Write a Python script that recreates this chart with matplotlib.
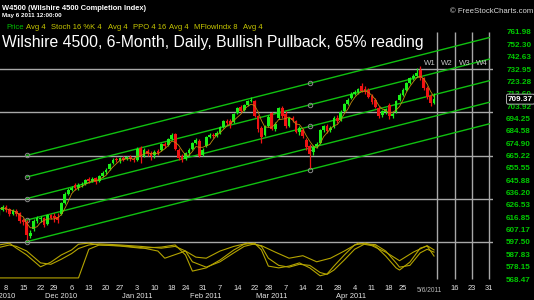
import numpy as np
import pandas as pd
import matplotlib
matplotlib.use("Agg")
import matplotlib.pyplot as plt
from matplotlib.transforms import blended_transform_factory

plt.rcParams["font.family"] = ["Liberation Sans", "DejaVu Sans"]

# ── Config ────────────────────────────────────────────────────────────────
W_PX, H_PX = 534, 300
HOLIDAYS = ["2010-11-25", "2010-12-24", "2011-01-17", "2011-02-21",
            "2011-04-22", "2011-05-30"]
days = pd.bdate_range("2010-11-04", "2011-05-31", freq="C", holidays=HOLIDAYS)


def pos(d):
    return days.get_loc(pd.Timestamp(d))


# ── Daily OHLC, 2010-11-04 .. 2011-05-06 ──────────────────────────────────
opens = [619.4, 622.5, 624.9, 623.3, 619.4, 621.7, 620.2, 614.7, 613.1, 602.2,
         607.6, 613.9, 615.5, 616.3, 611.6, 618.6, 617.8, 617.0, 619.4, 628.0,
         635.0, 638.2, 642.1, 639.7, 642.1, 642.9, 646.8, 645.2, 647.6, 645.2,
         649.1, 652.3, 654.6, 659.3, 662.4, 660.9, 663.2, 662.4, 664.0, 662.4,
         661.7, 671.1, 664.8, 668.7, 667.2, 665.6, 668.7, 669.5, 674.2, 673.4,
         678.1, 682.0, 669.5, 664.8, 662.4, 667.2, 670.3, 675.0, 676.6, 665.6,
         672.6, 679.7, 681.3, 680.5, 682.8, 687.5, 692.2, 692.2, 691.5, 698.5,
         703.2, 700.9, 704.8, 707.9, 707.9, 696.2, 686.8, 681.3, 688.3, 698.5,
         686.0, 694.6, 702.4, 697.7, 688.3, 694.6, 692.2, 683.6, 685.2, 677.3,
         672.6, 667.9, 672.6, 675.0, 685.2, 688.3, 685.2, 687.5, 694.6, 693.0,
         700.1, 705.6, 710.3, 713.4, 715.0, 719.7, 717.3, 716.5, 711.8, 708.7,
         702.4, 696.9, 699.3, 704.8, 696.2, 699.3, 708.7, 712.6, 716.5, 722.0,
         726.0, 727.5, 732.2, 726.0, 718.1, 711.8, 706.4]
highs = [624.9, 626.4, 626.4, 624.1, 623.3, 623.3, 620.9, 616.3, 614.7, 606.9,
         615.5, 617.8, 617.8, 617.0, 619.4, 619.4, 620.2, 620.2, 628.8, 636.6,
         639.7, 641.3, 643.6, 643.6, 644.4, 646.8, 648.3, 648.3, 648.3, 649.9,
         653.0, 655.4, 659.3, 663.2, 664.0, 664.0, 664.8, 664.8, 665.6, 664.0,
         671.9, 672.6, 671.1, 670.3, 668.7, 669.5, 670.3, 675.0, 675.8, 678.9,
         682.8, 682.8, 671.1, 666.4, 667.9, 671.1, 675.8, 678.9, 678.1, 671.1,
         680.5, 682.8, 682.8, 684.4, 688.3, 693.0, 693.8, 693.8, 698.5, 703.2,
         704.8, 705.6, 708.7, 711.1, 708.7, 696.9, 688.3, 689.1, 696.9, 699.3,
         691.5, 703.2, 704.0, 700.1, 695.4, 696.2, 693.0, 688.3, 686.8, 678.9,
         674.2, 673.4, 675.8, 686.0, 689.1, 689.9, 688.3, 696.2, 696.9, 700.9,
         706.4, 710.3, 715.0, 716.5, 718.1, 722.0, 719.7, 718.1, 713.4, 710.3,
         704.0, 700.9, 702.4, 706.4, 699.3, 708.7, 714.2, 718.1, 722.8, 726.7,
         729.1, 733.8, 735.3, 726.7, 719.7, 713.4, 714.2]
lows = [618.6, 621.7, 620.9, 617.8, 618.6, 617.8, 612.3, 610.8, 599.0, 600.6,
        606.1, 612.3, 613.1, 609.2, 610.8, 615.5, 613.1, 612.3, 618.6, 627.2,
        634.3, 637.4, 638.2, 638.2, 640.5, 642.1, 643.6, 644.4, 642.9, 644.4,
        648.3, 650.7, 653.8, 658.5, 660.1, 659.3, 660.9, 661.7, 660.9, 660.1,
        660.9, 659.3, 664.0, 664.8, 661.7, 663.2, 665.6, 668.7, 671.1, 672.6,
        677.3, 669.5, 661.7, 660.1, 661.7, 664.8, 669.5, 674.2, 664.0, 664.8,
        671.9, 678.9, 678.9, 679.7, 682.0, 686.8, 689.1, 686.8, 690.7, 697.7,
        699.3, 700.1, 704.0, 707.1, 695.4, 683.6, 675.0, 680.5, 687.5, 685.2,
        684.4, 693.8, 694.6, 686.8, 687.5, 691.5, 682.8, 681.3, 678.9, 669.5,
        655.4, 665.6, 671.1, 674.2, 683.6, 682.8, 683.6, 686.8, 690.7, 692.2,
        699.3, 704.8, 709.5, 712.6, 713.4, 715.0, 713.4, 710.3, 705.6, 702.4,
        694.6, 695.4, 697.7, 693.8, 694.6, 698.5, 707.9, 711.8, 715.8, 721.2,
        724.4, 726.7, 724.4, 716.5, 709.5, 704.0, 705.6]
closes = [623.3, 624.9, 622.5, 619.4, 621.7, 619.4, 613.9, 613.1, 602.9, 604.5,
          613.9, 616.3, 616.3, 610.8, 618.6, 616.3, 616.3, 614.7, 628.0, 635.0,
          638.2, 639.7, 639.7, 642.1, 642.9, 646.0, 645.2, 646.8, 644.4, 649.1,
          651.5, 653.8, 658.5, 661.7, 661.7, 663.2, 661.7, 664.0, 662.4, 661.7,
          670.3, 664.8, 669.5, 666.4, 664.8, 667.9, 667.2, 674.2, 672.6, 678.1,
          681.3, 670.3, 663.2, 661.7, 667.2, 669.5, 675.0, 677.3, 664.8, 669.5,
          679.7, 681.3, 680.5, 682.8, 687.5, 692.2, 690.7, 689.9, 697.7, 702.4,
          700.1, 704.8, 707.9, 708.7, 696.2, 686.0, 679.7, 688.3, 695.4, 686.0,
          689.9, 702.4, 696.2, 688.3, 694.6, 693.0, 683.6, 686.8, 680.5, 671.9,
          666.4, 671.9, 674.2, 685.2, 688.3, 684.4, 686.8, 694.6, 692.2, 699.3,
          705.6, 708.7, 713.4, 715.0, 717.3, 715.8, 715.0, 711.1, 707.1, 703.2,
          696.2, 700.1, 701.7, 696.2, 697.7, 707.9, 712.6, 716.5, 722.0, 726.0,
          727.5, 729.9, 726.0, 718.1, 711.1, 706.4, 709.37]

# Trend channel: bottom line anchored on the Nov-16 and Mar-16 lows
CHAN_DATES = ["2010-11-16", "2011-03-16"]
CHAN_BASE = [597.7, 654.2]
CHAN_STEP = 16.9
CHAN_END = "2011-05-31"

# Horizontal guide levels and future-week markers
GUIDE_LEVELS = [732.95, 699.09, 665.22, 631.37, 597.50]
WEEK_DATES = ["2011-05-09", "2011-05-16", "2011-05-23", "2011-05-31"]
WEEK_LABELS = ["W1", "W2", "W3", "W4"]

# Right-hand price scale
PRICE_TICKS = ["761.98", "752.30", "742.63", "732.95", "723.28", "713.60",
               "703.92", "694.25", "684.58", "674.90", "665.22", "655.55",
               "645.88", "636.20", "626.53", "616.85", "607.17", "597.50",
               "587.83", "578.15", "568.47"]
LAST_PRICE = "709.37"

# Date axis
DAY_TICKS = ["2010-11-08", "2010-11-15", "2010-11-22", "2010-11-29",
             "2010-12-06", "2010-12-13", "2010-12-20", "2010-12-27",
             "2011-01-03", "2011-01-10", "2011-01-18", "2011-01-24",
             "2011-01-31", "2011-02-07", "2011-02-14", "2011-02-22",
             "2011-02-28", "2011-03-07", "2011-03-14", "2011-03-21",
             "2011-03-28", "2011-04-04", "2011-04-11", "2011-04-18",
             "2011-04-25", "2011-05-16", "2011-05-23", "2011-05-31"]
MONTH_TICKS = ["2010-11-04", "2010-12-01", "2011-01-03", "2011-02-01",
               "2011-03-01", "2011-04-01"]
MONTH_LABELS = ["Nov 2010", "Dec 2010", "Jan 2011", "Feb 2011", "Mar 2011",
                "Apr 2011"]
CURSOR_DATE = "2011-05-06"

# Oscillator pane (0-100 scale), sampled by trading-day index
osc_k_idx = [0, 3, 5, 8, 12, 15, 18, 21, 23, 26, 29, 35, 41, 47, 51, 54, 56,
             60, 64, 68, 71, 74, 76, 78, 81, 84, 87, 90, 93, 95, 97, 100, 103,
             106, 109, 112, 115, 116, 119, 122, 124, 126]
osc_k = [92, 97, 83, 64, 31, 44, 64, 78, 94, 97, 92, 89, 83, 86, 92, 64, 19,
         28, 50, 78, 94, 97, 78, 33, 28, 33, 42, 28, 6, 11, 33, 64, 92, 97,
         89, 61, 28, 22, 44, 83, 89, 61]
osc_avg = [85, 92, 88, 75, 42, 38, 52, 68, 82, 92, 95, 92, 88, 83, 88, 75, 45,
           30, 45, 70, 88, 95, 88, 55, 35, 30, 38, 35, 15, 10, 22, 50, 80, 95,
           93, 75, 42, 30, 35, 70, 80, 72]
mfi_idx = [0, 23, 26, 29, 35, 41, 46, 48, 51, 54, 57, 60, 64, 68, 72, 76, 80,
           84, 88, 92, 96, 100, 104, 108, 112, 116, 120, 124, 126]
mfi = [0, 0, 80, 92, 90, 85, 75, 55, 65, 75, 58, 55, 75, 88, 97, 90, 72, 55,
       62, 45, 55, 75, 97, 90, 72, 48, 72, 90, 78]

# ── Colours ───────────────────────────────────────────────────────────────
UP, DOWN = "#19f019", "#f01414"
CHAN = "#10c010"
GUIDE = "#a8a8a8"
OSC = "#b4a400"
AXIS_GREEN = "#00c800"

fig = plt.figure(figsize=(W_PX / 100, H_PX / 100), dpi=100)
fig.patch.set_facecolor("black")


def fx(px):
    return px / W_PX


def fy(py):
    return 1 - py / H_PX


# main price axes covers pixels x 0..493, y 0..282
ax = fig.add_axes([0, fy(282), fx(493), 282 / H_PX])
ax.set_facecolor("black")
ax.set_xlim(0.26, 143.08)
ax.set_ylim(566.12, 787.05)
for s in ax.spines.values():
    s.set_visible(False)
ax.set_xticks([])
ax.yaxis.tick_right()
ax.set_yticks([float(t) for t in PRICE_TICKS])
ax.set_yticklabels(PRICE_TICKS, fontweight="bold")
ax.tick_params(axis="y", length=0, pad=9.5, labelsize=5.9,
               labelcolor=AXIS_GREEN)

# guide lines
for lvl in GUIDE_LEVELS:
    ax.axhline(lvl, color=GUIDE, linewidth=1.0, zorder=1)
for d, lab in zip(WEEK_DATES, WEEK_LABELS):
    ax.vlines(pos(d), float(PRICE_TICKS[-1]), float(PRICE_TICKS[0]),
              color=GUIDE, linewidth=1.0, zorder=1)
    ax.annotate(lab, xy=(pos(d), GUIDE_LEVELS[0]), xytext=(-1.2, 1.5),
                textcoords="offset points", ha="right", va="bottom",
                color="#c8c8c8", fontsize=5.6)

# trend channel
i0, i1, i2 = pos(CHAN_DATES[0]), pos(CHAN_DATES[1]), pos(CHAN_END)
slope = (CHAN_BASE[1] - CHAN_BASE[0]) / (i1 - i0)
for k in range(5):
    y0 = CHAN_BASE[0] + k * CHAN_STEP
    y2 = y0 + slope * (i2 - i0)
    ax.plot([i0, i2], [y0, y2], color=CHAN, linewidth=1.0, zorder=2)
    ax.plot([i0, i1], [y0, y0 + slope * (i1 - i0)], linestyle="none",
            marker="o", markersize=3.2, markerfacecolor="none",
            markeredgecolor="#8a8a8a", markeredgewidth=0.7, zorder=3)

# candles
o = np.array(opens); h = np.array(highs); l = np.array(lows); c = np.array(closes)
x = np.arange(len(c))
col = np.where(c >= o, UP, DOWN)
ax.vlines(x, l, h, colors=col, linewidth=0.9, zorder=4)
ax.bar(x, np.maximum(np.abs(c - o), 0.8), bottom=np.minimum(o, c), width=0.8,
       color=col, linewidth=0, zorder=5)
avg4 = pd.Series(c).rolling(4, min_periods=1).mean()
ax.plot(x, avg4, color="#c08a10", linewidth=0.6, zorder=6)

# last price box
ax.text(fx(508) / fx(493), float(LAST_PRICE), LAST_PRICE,
        transform=blended_transform_factory(ax.transAxes, ax.transData),
        ha="left", va="center", color="white", fontsize=5.9,
        fontweight="bold", clip_on=False, zorder=10,
        bbox=dict(boxstyle="round,pad=0.18", fc="black", ec="#b0b0b0", lw=0.7))

# oscillator pane overlay (pixels y 241..279)
ax2 = fig.add_axes([0, fy(279), fx(493), 38 / H_PX])
ax2.set_xlim(ax.get_xlim())
ax2.set_ylim(-3, 103)
ax2.axis("off")
ax2.patch.set_alpha(0)
ax2.plot(osc_k_idx, osc_k, color=OSC, linewidth=0.8)
ax2.plot(osc_k_idx, osc_avg, color=OSC, linewidth=0.8)
ax2.plot(mfi_idx, mfi, color=OSC, linewidth=0.8)

# date labels
bt = blended_transform_factory(ax.transData, fig.transFigure)
for d in DAY_TICKS:
    ax.text(pos(d), fy(288), str(pd.Timestamp(d).day), transform=bt,
            ha="center", va="center", color="#e6e6e6", fontsize=5.4,
            clip_on=False)
for d, lab in zip(MONTH_TICKS, MONTH_LABELS):
    ax.text(pos(d), fy(297), lab, transform=bt, ha="center", va="center",
            color="#e6e6e6", fontsize=5.4, clip_on=False)
ax.text(pos(CURSOR_DATE) - 1.3, fy(290.5), "5/6/2011", transform=bt,
        ha="center", va="center", color="#b8b8b8", fontsize=4.8, clip_on=False)

# header texts
fig.text(fx(2), fy(9.5), "W4500 (Wilshire 4500 Completion Index)",
         color="white", fontsize=5.4, fontweight="bold", va="baseline")
fig.text(fx(2), fy(17.5), "May 6 2011 12:00:00", color="white",
         fontsize=4.5, fontweight="bold", va="baseline")
legend_items = [("Price", 6, "#00c000"), ("Avg 4", 26, "#c8c800"),
                ("Stoch 16 %K 4", 51, "#c8c800"), ("Avg 4", 108, "#c8c800"),
                ("PPO 4 16", 133, "#c8c800"), ("Avg 4", 169, "#c8c800"),
                ("MFlowIndx 8", 194, "#c8c800"), ("Avg 4", 243, "#c8c800")]
for txt, px, colr in legend_items:
    fig.text(fx(px), fy(29.3), txt, color=colr, fontsize=5.5, va="baseline")
fig.text(fx(533), fy(13), "\u00a9 FreeStockCharts.com", color="#d8d8d8",
         fontsize=5.6, ha="right", va="baseline")
fig.text(fx(2), fy(46.7),
         "Wilshire 4500, 6-Month, Daily, Bullish Pullback, 65% reading",
         color="white", fontsize=11.3, va="baseline")

fig.savefig("out.png", dpi=100, facecolor="black")
